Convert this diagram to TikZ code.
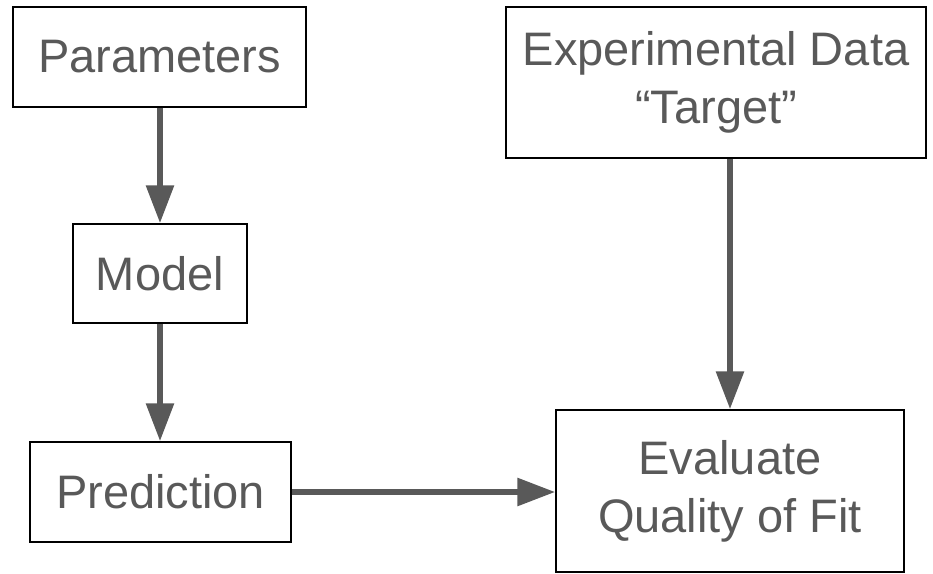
\documentclass[tikz,border=0pt]{standalone}
\usepackage{fontspec}
\setmainfont{Liberation Sans}
\usetikzlibrary{arrows.meta}
\definecolor{txtgray}{HTML}{595959}
\begin{document}
\begin{tikzpicture}[x=1pt,y=-1pt,
  box/.style={draw=black,line width=1.5pt,rectangle,inner sep=0pt,
    text=txtgray,font=\fontsize{47}{58}\selectfont,align=center},
  conn/.style={draw=txtgray,line width=6pt,
    -{Triangle[length=38pt,width=27pt]}}]
\useasboundingbox (0,0) rectangle (933,573);
\node[box,minimum width=293pt,minimum height=100pt] (par) at (159.5,57) {Parameters};
\node[box,minimum width=174pt,minimum height=99pt] (mod) at (160,273.5) {Model};
\node[box,minimum width=261pt,minimum height=100pt] (pre) at (160.5,492) {Prediction};
\node[box,minimum width=420pt,minimum height=151pt] (exp) at (716,82.5) {Experimental Data\\``Target''};
\node[box,minimum width=348pt,minimum height=162pt] (ev) at (730,491) {Evaluate\\Quality of Fit};
\draw[conn] (par.south -| mod.north) -- (mod.north);
\draw[conn] (mod.south) -- (pre.north -| mod.south);
\draw[conn] (pre.east) -- (pre.east -| ev.west);
\draw[conn] (exp.south -| ev.north) -- (ev.north);
\end{tikzpicture}
\end{document}
